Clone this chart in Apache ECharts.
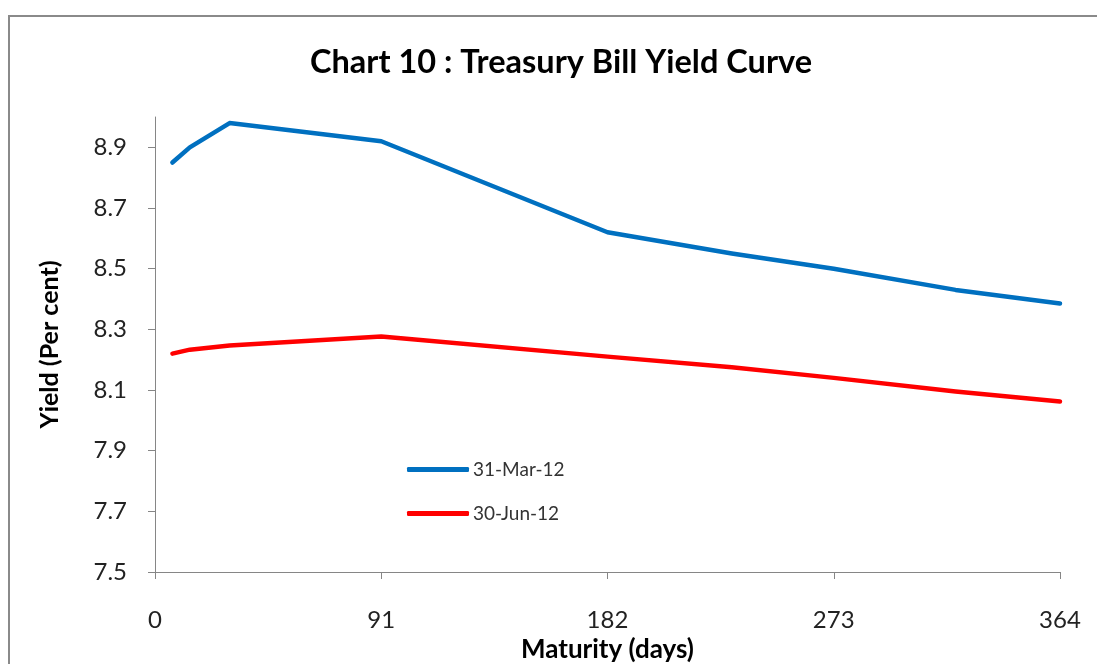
<!DOCTYPE html>
<html>
<head>
<meta charset="utf-8">
<script src="https://cdn.jsdelivr.net/npm/echarts@6/dist/echarts.min.js"></script>
<style>
  html, body { margin: 0; padding: 0; background: #fff; }
  #chart { width: 1097px; height: 664px; }
</style>
</head>
<body>
<div id="chart"></div>
<script>
// maturity in days
const maturity = [7, 14, 30, 91, 182, 232, 273, 322, 364];
// yields (per cent)
const mar12 = [8.85, 8.90, 8.98, 8.92, 8.62, 8.55, 8.50, 8.43, 8.385];
const jun12 = [8.22, 8.233, 8.247, 8.276, 8.21, 8.175, 8.14, 8.095, 8.062];
const seriesNames = ['31-Mar-12', '30-Jun-12'];
const xTicks = [0, 91, 182, 273, 364];
const yTicks = [7.5, 7.7, 7.9, 8.1, 8.3, 8.5, 8.7, 8.9];

const font = 'Lato, "Open Sans", sans-serif';
const axisGray = '#868686';

function pairs(xs, ys) {
  return xs.map((x, i) => [x, ys[i]]);
}

const chart = echarts.init(document.getElementById('chart'));
chart.setOption({
  animation: false,
  backgroundColor: '#fff',
  graphic: [{
    type: 'rect',
    shape: { x: 9, y: 16, width: 1200, height: 800 },
    style: { fill: 'none', stroke: '#8a8a8a', lineWidth: 2 },
    silent: true
  }],
  title: {
    text: 'Chart 10 : Treasury Bill Yield Curve',
    left: 305,
    top: 41,
    textStyle: { fontFamily: font, fontWeight: 'bold', fontSize: 32.5, color: '#000' }
  },
  legend: {
    orient: 'vertical',
    left: 402,
    top: 455,
    itemWidth: 62,
    itemHeight: 5,
    itemGap: 25,
    icon: 'roundRect',
    textStyle: { fontFamily: font, fontSize: 19, color: '#333', padding: [0, 0, 0, -1] },
    data: seriesNames
  },
  grid: { left: 155, right: 37, top: 117, bottom: 92, outerBoundsMode: 'none', containLabel: false },
  xAxis: {
    type: 'value',
    min: 0,
    max: 364,
    interval: 91,
    name: 'Maturity (days)',
    nameLocation: 'middle',
    nameGap: 65,
    nameTextStyle: { fontFamily: font, fontWeight: 'bold', fontSize: 26, color: '#000' },
    axisLine: { show: true, lineStyle: { color: axisGray, width: 1 } },
    axisTick: { show: true, length: 7, lineStyle: { color: axisGray }, customValues: xTicks },
    axisLabel: { fontFamily: font, fontSize: 24, color: '#222', margin: 36, customValues: xTicks },
    splitLine: { show: false }
  },
  yAxis: {
    type: 'value',
    min: 7.5,
    max: 9.0,
    interval: 0.1,
    name: 'Yield (Per cent)',
    nameLocation: 'middle',
    nameRotate: 90,
    nameGap: 93,
    nameTextStyle: { fontFamily: font, fontWeight: 'bold', fontSize: 25, color: '#000' },
    axisLine: { show: true, lineStyle: { color: axisGray, width: 1 } },
    axisTick: { show: true, inside: false, length: 7, lineStyle: { color: axisGray }, customValues: yTicks },
    axisLabel: {
      fontFamily: font, fontSize: 24, color: '#222', margin: 28,
      customValues: yTicks,
      formatter: v => v.toFixed(1)
    },
    splitLine: { show: false }
  },
  series: [
    {
      name: seriesNames[0],
      type: 'line',
      data: pairs(maturity, mar12),
      showSymbol: false,
      color: '#0070C0',
      lineStyle: { width: 4.5, color: '#0070C0', cap: 'round', join: 'round' }
    },
    {
      name: seriesNames[1],
      type: 'line',
      data: pairs(maturity, jun12),
      showSymbol: false,
      color: '#FF0000',
      lineStyle: { width: 4.5, color: '#FF0000', cap: 'round', join: 'round' }
    }
  ]
});
</script>
</body>
</html>
